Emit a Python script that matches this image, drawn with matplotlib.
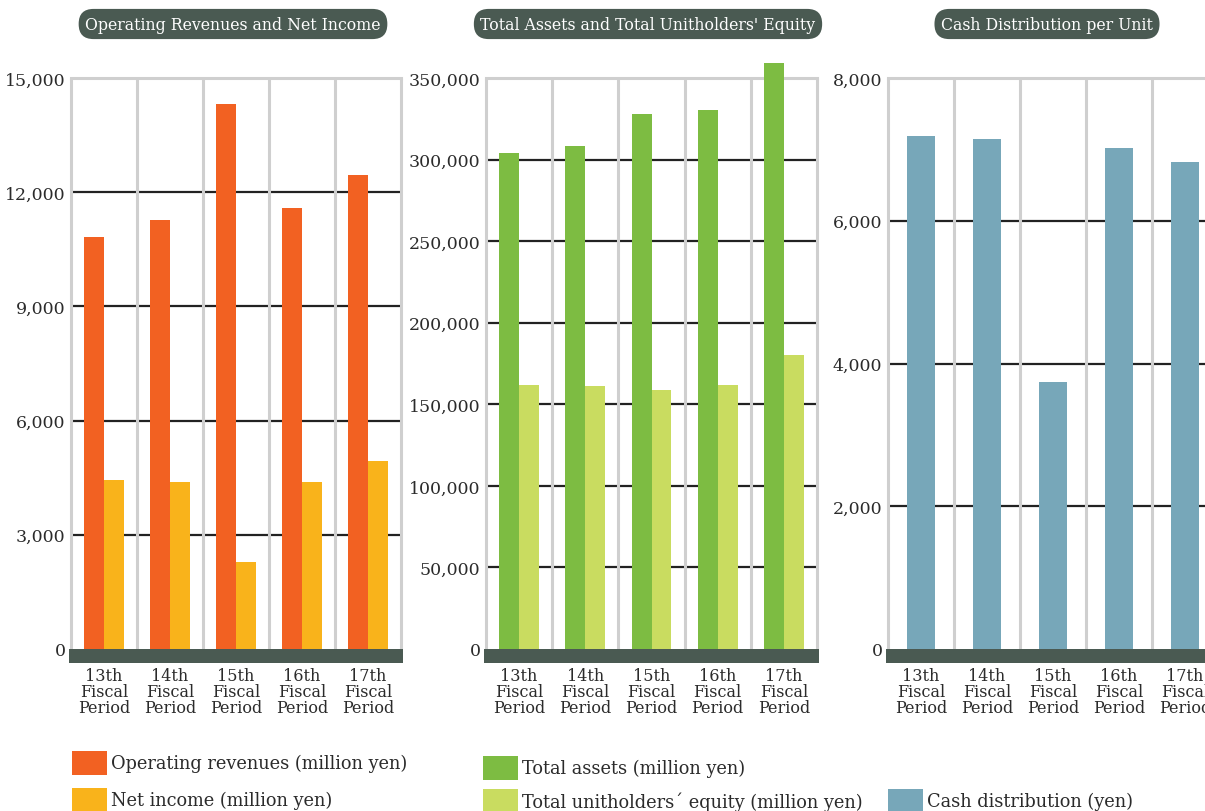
import matplotlib
matplotlib.use('Agg')
import matplotlib.pyplot as plt
from matplotlib.patches import Rectangle
import numpy as np

plt.rcParams['font.family'] = ['DejaVu Serif']

periods = ['13th\nFiscal\nPeriod', '14th\nFiscal\nPeriod', '15th\nFiscal\nPeriod',
           '16th\nFiscal\nPeriod', '17th\nFiscal\nPeriod']

operating_revenues = [10820, 11270, 14320, 11590, 12450]
net_income = [4430, 4380, 2280, 4380, 4930]

total_assets = [303900, 308200, 327800, 330300, 359000]
unitholders_equity = [161800, 161200, 158700, 161800, 180100]

cash_distribution = [7184, 7142, 3740, 7015, 6817]

titles = ['Operating Revenues and Net Income',
          "Total Assets and Total Unitholders' Equity",
          'Cash Distribution per Unit']

ORANGE = '#f26122'
YELLOW = '#f9b31b'
GREEN = '#7dbc42'
LGREEN = '#c9dc60'
BLUE = '#77a7b9'
DARK = '#4a5a52'
SEP = '#cfcfcf'
TXT = '#2b2b2b'

W, H = 1205, 812
fig = plt.figure(figsize=(W / 100, H / 100), dpi=100)


def px_axes(x0, x1, top=79, bottom=664):
    return fig.add_axes([x0 / W, 1 - bottom / H, (x1 - x0) / W, (bottom - top) / H])


def setup(ax, ymax, step, fmt):
    n = len(periods)
    band = ymax * 14 / 571
    ax.set_xlim(-0.5, n - 0.5)
    ax.set_ylim(-band, ymax)
    for s in ax.spines.values():
        s.set_visible(False)
    # black gridlines
    for v in np.arange(step, ymax, step):
        ax.plot([-0.5, n - 0.5], [v, v], color='#222222', lw=1.6, zorder=1, solid_capstyle='butt')
    # top border and separators
    ax.plot([-0.5, n - 0.5], [ymax, ymax], color=SEP, lw=2.2, zorder=2, clip_on=False)
    ax.vlines(np.arange(-0.5, n), 0, ymax, color=SEP, lw=2.2, zorder=2, clip_on=False)
    # dark band at the base
    ax.add_patch(Rectangle((-0.53, -band), n + 0.06, band, facecolor=DARK,
                           edgecolor='none', zorder=4, clip_on=False))
    ax.set_yticks(np.arange(0, ymax + 1, step))
    ax.set_yticklabels([fmt(v) for v in np.arange(0, ymax + 1, step)])
    ax.set_xticks(range(n))
    ax.set_xticklabels(periods, linespacing=0.92)
    ax.tick_params(length=0, colors=TXT, labelsize=12.5, pad=4)
    ax.tick_params(axis='x', labelsize=11.5, pad=3)


def fmt(v):
    return f'{int(v):,}'


x = np.arange(len(periods))

ax1 = px_axes(71, 401)
setup(ax1, 15000, 3000, fmt)
ax1.bar(x - 0.15, operating_revenues, 0.30, color=ORANGE, zorder=3)
ax1.bar(x + 0.15, net_income, 0.30, color=YELLOW, zorder=3)

ax2 = px_axes(486, 817)
setup(ax2, 350000, 50000, fmt)
ax2.bar(x - 0.15, total_assets, 0.30, color=GREEN, zorder=3, clip_on=False)
ax2.bar(x + 0.15, unitholders_equity, 0.30, color=LGREEN, zorder=3)

ax3 = px_axes(888, 1218)
setup(ax3, 8000, 2000, fmt)
ax3.bar(x, cash_distribution, 0.42, color=BLUE, zorder=3)

# title pills
for cx, t in zip([233, 648, 1047], titles):
    fig.text(cx / W, 1 - 25 / H, t, ha='center', va='center', color='white', fontsize=11.3,
             bbox=dict(boxstyle='round,pad=0.42,rounding_size=0.95', fc=DARK, ec='none'))

# legend
legend_items = [
    (72, 752, ORANGE, 'Operating revenues (million yen)'),
    (72, 789, YELLOW, 'Net income (million yen)'),
    (483, 757, GREEN, 'Total assets (million yen)'),
    (483, 790, LGREEN, 'Total unitholders\u00b4 equity (million yen)'),
    (888, 790, BLUE, 'Cash distribution (yen)'),
]
for lx, ly, c, label in legend_items:
    fig.patches.append(Rectangle((lx / W, 1 - (ly + 24) / H), 35 / W, 24 / H,
                                 transform=fig.transFigure, facecolor=c, edgecolor='none'))
    fig.text((lx + 39) / W, 1 - (ly + 12) / H, label, ha='left', va='center',
             color=TXT, fontsize=12.8)

fig.savefig('out.png', dpi=100)
